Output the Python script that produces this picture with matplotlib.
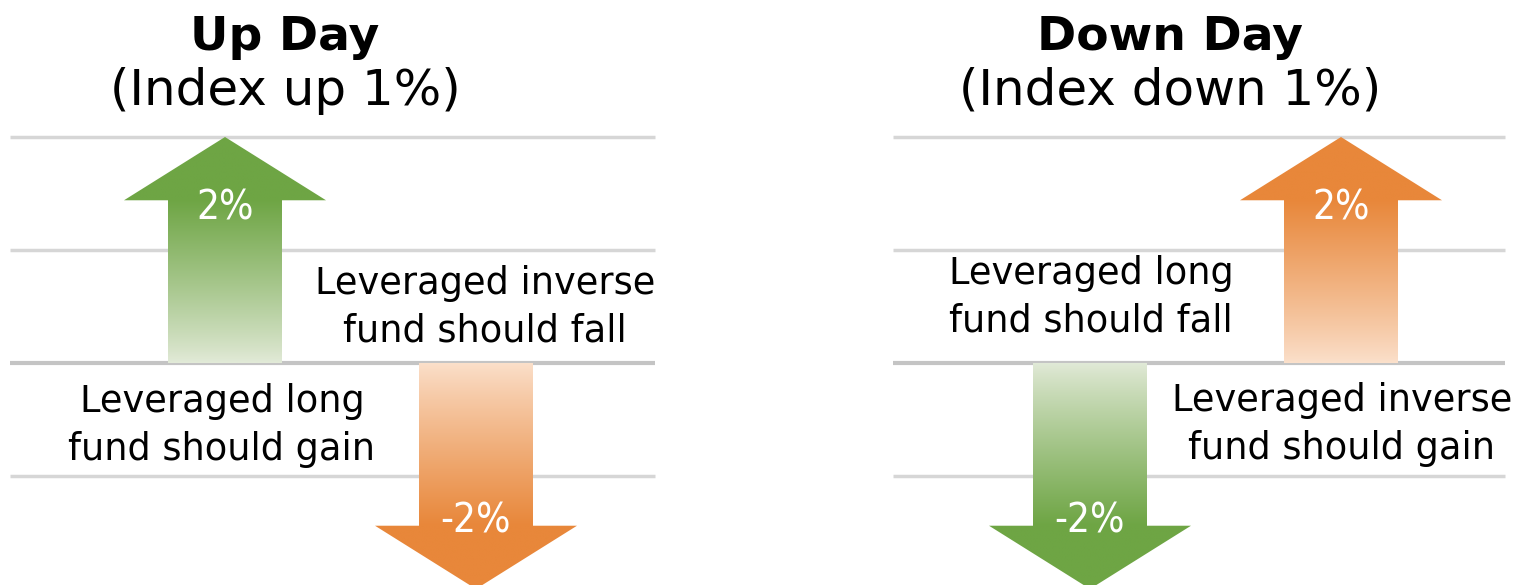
import numpy as np
import matplotlib
matplotlib.use("Agg")
import matplotlib.pyplot as plt
from matplotlib.patches import Polygon
from matplotlib.colors import to_rgb

# data: index move and the 2x fund moves for each scenario
panels = ["Up Day", "Down Day"]
subtitles = ["(Index up 1%)", "(Index down 1%)"]
long_moves = [2, -2]
inverse_moves = [-2, 2]
long_notes = ["Leveraged long\nfund should gain", "Leveraged long\nfund should fall"]
inverse_notes = ["Leveraged inverse\nfund should fall", "Leveraged inverse\nfund should gain"]
grid_levels = [2, 1, 0, -1]

GREEN_DARK, GREEN_LIGHT = "#6ea544", "#e2ead8"
ORANGE_DARK, ORANGE_LIGHT = "#e8873a", "#fbe0cb"

PX = 113.0  # pixels per percent point

fig = plt.figure(figsize=(15.24, 5.85), dpi=100)
ax = fig.add_axes([0, 0, 1, 1])
ax.set_xlim(0, 1524)
ax.set_ylim(-222 / PX, 363 / PX)
ax.axis("off")


def grad_arrow(x, val, dark, light, shaft=114, head=202, head_len=0.56):
    s = np.sign(val)
    hb = val - s * head_len
    pts = [(x - shaft / 2, 0), (x - shaft / 2, hb), (x - head / 2, hb), (x, val),
           (x + head / 2, hb), (x + shaft / 2, hb), (x + shaft / 2, 0)]
    poly = Polygon(pts, closed=True, facecolor="none", edgecolor="none")
    ax.add_patch(poly)
    n = 200
    ys = np.linspace(min(0, val), max(0, val), n)
    t = np.clip(ys / hb, 0, 1) ** 0.9
    c0, c1 = np.array(to_rgb(light)), np.array(to_rgb(dark))
    cols = c0[None, :] * (1 - t[:, None]) + c1[None, :] * t[:, None]
    img = cols[:, None, :]
    im = ax.imshow(img, extent=[x - head / 2, x + head / 2, min(0, val), max(0, val)],
                   origin="lower", aspect="auto", zorder=2, interpolation="bilinear")
    im.set_clip_path(poly)


pct_font = ["Liberation Sans Narrow", "DejaVu Sans"]
layouts = [
    dict(x0=10, x1=655, cx=285, long_x=225, inv_x=476,
         long_txt=(222, -0.555), inv_txt=(485, 0.49)),
    dict(x0=893, x1=1505, cx=1170, long_x=1090, inv_x=1341,
         long_txt=(1091, 0.58), inv_txt=(1342, -0.545)),
]

for i, L in enumerate(layouts):
    for g in grid_levels:
        lw = 3 if g == 0 else 2.5
        col = "#c4c4c4" if g == 0 else "#d6d6d6"
        ax.plot([L["x0"], L["x1"]], [g, g], color=col, lw=lw, zorder=1,
                solid_capstyle="butt")
    lv, iv = long_moves[i], inverse_moves[i]
    grad_arrow(L["long_x"], lv, GREEN_DARK, GREEN_LIGHT)
    grad_arrow(L["inv_x"], iv, ORANGE_DARK, ORANGE_LIGHT)
    for x, v in [(L["long_x"], lv), (L["inv_x"], iv)]:
        ty = v - 0.63 if v > 0 else v + 0.60
        ax.text(x, ty, f"{v}%", color="white", fontsize=29, ha="center",
                va="center", family=pct_font, fontstretch="condensed", zorder=5)
    ax.text(L["cx"], 2.88, panels[i], fontsize=34, fontweight="bold",
            ha="center", va="center")
    ax.text(L["cx"], 2.41, subtitles[i], fontsize=36, ha="center", va="center")
    ax.text(*L["long_txt"], long_notes[i], fontsize=26.5, ha="center",
            va="center", linespacing=1.36, zorder=4)
    ax.text(*L["inv_txt"], inverse_notes[i], fontsize=26.5, ha="center",
            va="center", linespacing=1.36, zorder=4)

fig.savefig("out.png", dpi=100, facecolor="white")
